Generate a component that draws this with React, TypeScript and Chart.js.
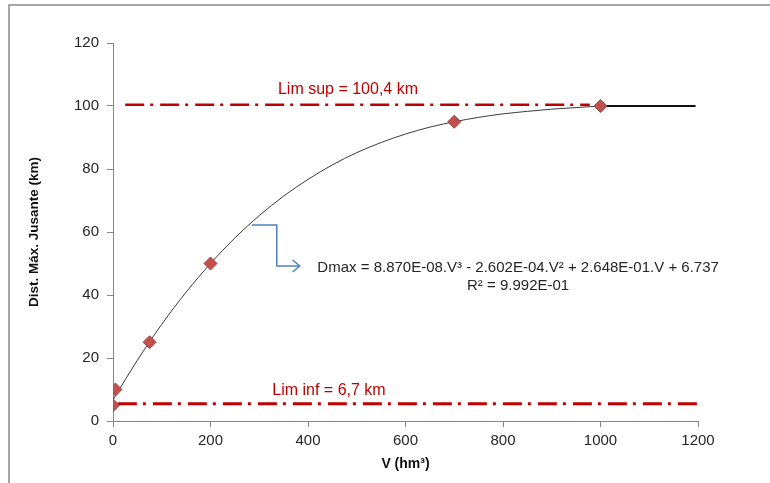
import React, { useEffect, useRef } from "react";
import { Chart, registerables } from "chart.js";

Chart.register(...registerables);

// Observed points
const obsV = [0, 5, 75, 200, 700, 1000];
const obsD = [5, 10, 25, 50, 95, 100];

// Trend curve
const trendV = [0, 50, 100, 150, 200, 250, 300, 350, 400, 450, 500, 550, 600, 650, 700, 750, 800, 850, 900, 950, 1000];
const trendD = [6.7, 19.3, 30.7, 40.9, 50.0, 58.1, 65.2, 71.4, 76.7, 81.3, 85.2, 88.4, 91.1, 93.3, 95.0, 96.4, 97.5, 98.3, 99.0, 99.5, 100.0];

// Flat tail after last point
const tailV = [1000, 1195];
const tailD = [100, 100];

// Limit lines
const limSupV = [25, 978];
const limSupD = [100.4, 100.4];
const limInfV = [10, 1205];
const limInfD = [5.5, 5.5];

const xTicksMin = 0;
const xTicksMax = 1200;
const yTicksMin = 0;
const yTicksMax = 120;

const labelLimSup = "Lim sup = 100,4 km";
const labelLimInf = "Lim inf = 6,7 km";
const eqText = "Dmax = 8.870E-08.V³ - 2.602E-04.V² + 2.648E-01.V + 6.737";
const r2Text = "R² = 9.992E-01";
const xTitle = "V (hm³)";
const yTitle = "Dist. Máx. Jusante (km)";

const toXY = (xs: number[], ys: number[]) => xs.map((x, i) => ({ x, y: ys[i] }));

const RED = "#C00000";
const FONT = "'Liberation Sans', Arial, sans-serif";

export default function App() {
  const ref = useRef<HTMLCanvasElement | null>(null);

  useEffect(() => {
    if (!ref.current) return;

    const overlay = {
      id: "overlay",
      beforeDraw(chart: any) {
        const ctx = chart.ctx;
        ctx.save();
        ctx.fillStyle = "#ffffff";
        ctx.fillRect(0, 0, chart.width, chart.height);
        ctx.strokeStyle = "#8a8a8a";
        ctx.lineWidth = 1.5;
        ctx.strokeRect(9, 5, 900, 700);
        ctx.restore();
      },
      afterDatasetsDraw(chart: any) {
        const ctx = chart.ctx;
        const xs = chart.scales.x;
        const ys = chart.scales.y;
        ctx.save();
        // Limit labels
        ctx.fillStyle = RED;
        ctx.font = `16px ${FONT}`;
        ctx.textAlign = "center";
        ctx.textBaseline = "middle";
        ctx.fillText(labelLimSup, xs.getPixelForValue(482), ys.getPixelForValue(105.1));
        ctx.fillText(labelLimInf, xs.getPixelForValue(443), ys.getPixelForValue(9.5));

        // Equation
        ctx.fillStyle = "#262626";
        ctx.font = `15px ${FONT}`;
        ctx.fillText(eqText, xs.getPixelForValue(831), ys.getPixelForValue(48.6));
        ctx.fillText(r2Text, xs.getPixelForValue(831), ys.getPixelForValue(42.9));

        // Blue connector arrow
        const x1 = xs.getPixelForValue(285);
        const x2 = xs.getPixelForValue(336);
        const x3 = xs.getPixelForValue(383);
        const y1 = ys.getPixelForValue(62.2);
        const y2 = ys.getPixelForValue(49.2);
        ctx.strokeStyle = "#4F81BD";
        ctx.lineWidth = 1.5;
        ctx.beginPath();
        ctx.moveTo(x1, y1);
        ctx.lineTo(x2, y1);
        ctx.lineTo(x2, y2);
        ctx.lineTo(x3, y2);
        ctx.stroke();
        ctx.beginPath();
        ctx.moveTo(x3 - 7, y2 - 6);
        ctx.lineTo(x3, y2);
        ctx.lineTo(x3 - 7, y2 + 6);
        ctx.stroke();
        ctx.restore();
      },
    };

    const dashLine = {
      showLine: true,
      borderColor: RED,
      borderWidth: 2.5,
      borderDash: [19, 6, 3, 7],
      pointRadius: 0,
      fill: false,
      clip: false as any,
    };

    const chart = new Chart(ref.current, {
      type: "scatter",
      data: {
        datasets: [
          {
            label: "obs",
            data: toXY(obsV, obsD),
            pointStyle: "rectRot",
            pointRadius: 6.5,
            pointBackgroundColor: "#C0504D",
            pointBorderColor: "#A8423F",
            pointBorderWidth: 1,
            showLine: false,
          },
          {
            label: "trend",
            data: toXY(trendV, trendD),
            showLine: true,
            borderColor: "#3a3a3a",
            borderWidth: 1,
            pointRadius: 0,
            cubicInterpolationMode: "monotone",
            fill: false,
          },
          {
            label: "tail",
            data: toXY(tailV, tailD),
            showLine: true,
            borderColor: "#111111",
            borderWidth: 1.8,
            pointRadius: 0,
            fill: false,
          },
          { label: "limsup", data: toXY(limSupV, limSupD), ...dashLine },
          { label: "liminf", data: toXY(limInfV, limInfD), ...dashLine, borderWidth: 3 },
        ] as any,
      },
      options: {
        animation: false,
        responsive: false,
        devicePixelRatio: 1,
        layout: { padding: { left: 0, top: 43, right: 72, bottom: 0 } },
        plugins: {
          legend: { display: false },
          tooltip: { enabled: false },
        },
        scales: {
          x: {
            type: "linear",
            min: xTicksMin,
            max: xTicksMax,
            afterFit: (s: any) => {
              s.height = 62;
            },
            ticks: {
              stepSize: 200,
              color: "#262626",
              font: { family: FONT, size: 15 },
              padding: 5,
              maxRotation: 0,
              callback: (v: any) => String(v),
            },
            grid: {
              display: true,
              drawOnChartArea: false,
              drawTicks: true,
              tickLength: 6,
              color: "#868686",
            },
            border: { display: true, color: "#868686", width: 1 },
            title: {
              display: true,
              text: xTitle,
              color: "#111",
              font: { family: FONT, size: 14, weight: "bold" },
              padding: { top: 0, bottom: 10 },
            },
          },
          y: {
            type: "linear",
            min: yTicksMin,
            max: yTicksMax,
            afterFit: (s: any) => {
              s.width = 113;
            },
            ticks: {
              stepSize: 20,
              color: "#262626",
              font: { family: FONT, size: 15 },
              padding: 8,
              callback: (v: any) => String(v),
            },
            grid: {
              display: true,
              drawOnChartArea: false,
              drawTicks: true,
              tickLength: 6,
              color: "#868686",
            },
            border: { display: true, color: "#868686", width: 1 },
            title: {
              display: true,
              text: yTitle,
              color: "#111",
              font: { family: FONT, size: 13.5, weight: "bold" },
              padding: { top: 26, bottom: 0 },
            },
          },
        },
      } as any,
      plugins: [overlay],
    });

    return () => chart.destroy();
  }, []);

  return (
    <div style={{ position: "fixed", left: 0, top: 0, width: 770, height: 483, background: "#fff" }}>
      <canvas ref={ref} width={770} height={483} style={{ display: "block", width: 770, height: 483 }} />
    </div>
  );
}
